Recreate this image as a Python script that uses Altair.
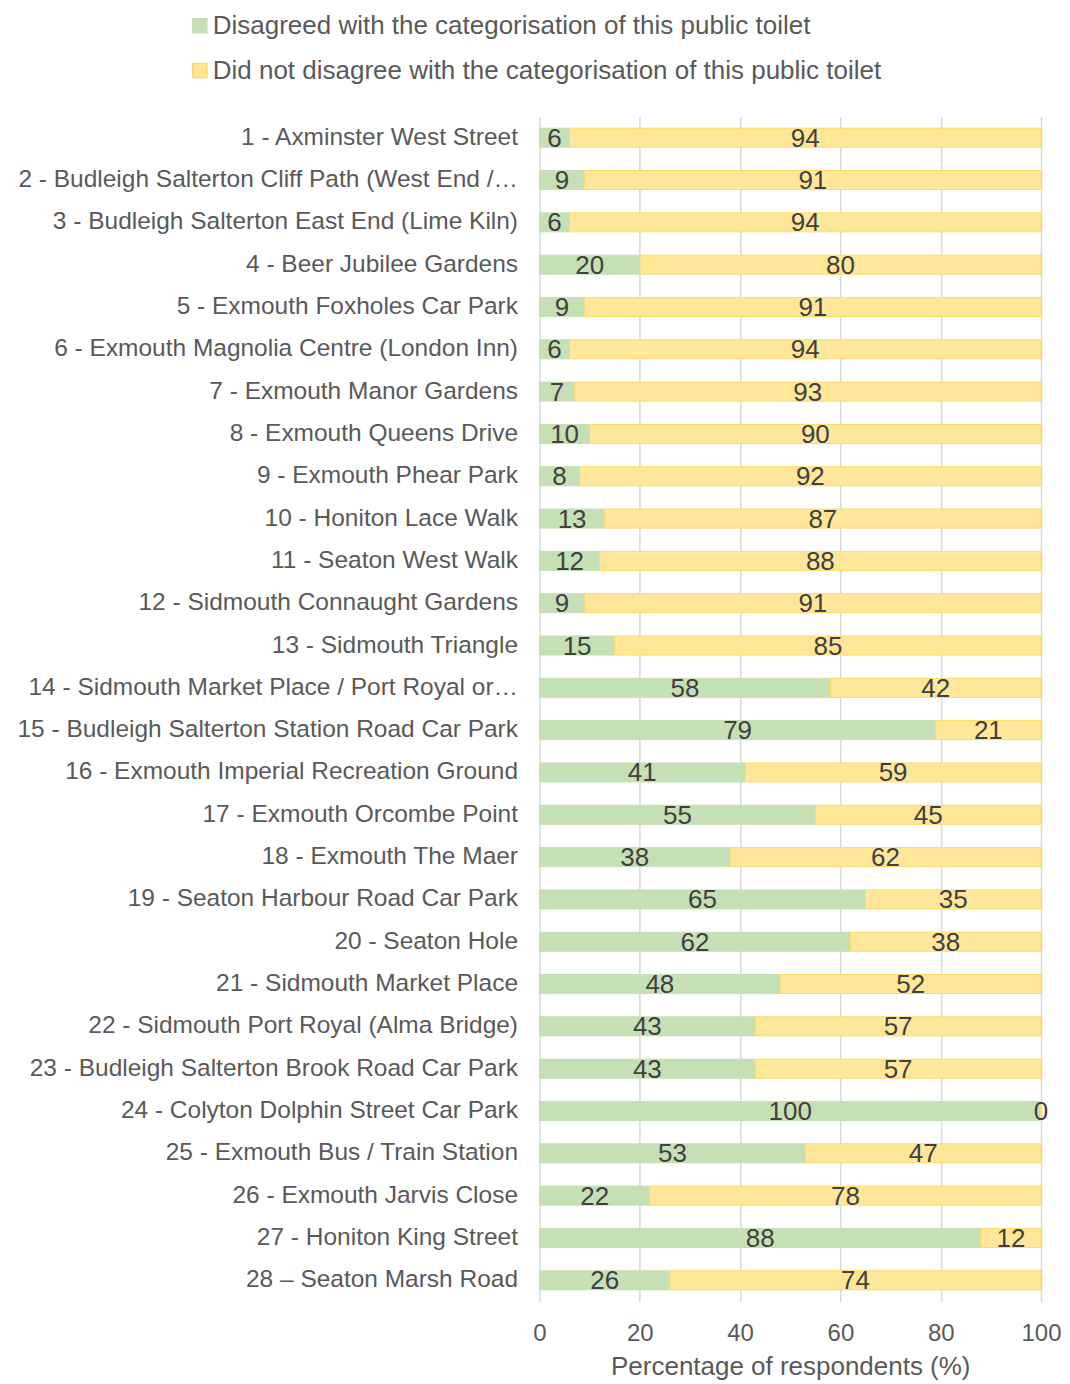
import altair as alt
import pandas as pd

toilets = [
    "1 - Axminster West Street",
    "2 - Budleigh Salterton Cliff Path (West End /…",
    "3 - Budleigh Salterton East End (Lime Kiln)",
    "4 - Beer Jubilee Gardens",
    "5 - Exmouth Foxholes Car Park",
    "6 - Exmouth Magnolia Centre (London Inn)",
    "7 - Exmouth Manor Gardens",
    "8 - Exmouth Queens Drive",
    "9 - Exmouth Phear Park",
    "10 - Honiton Lace Walk",
    "11 - Seaton West Walk",
    "12 - Sidmouth Connaught Gardens",
    "13 - Sidmouth Triangle",
    "14 - Sidmouth Market Place / Port Royal or…",
    "15 - Budleigh Salterton Station Road Car Park",
    "16 - Exmouth Imperial Recreation Ground",
    "17 - Exmouth Orcombe Point",
    "18 - Exmouth The Maer",
    "19 - Seaton Harbour Road Car Park",
    "20 - Seaton Hole",
    "21 - Sidmouth Market Place",
    "22 - Sidmouth Port Royal (Alma Bridge)",
    "23 - Budleigh Salterton Brook Road Car Park",
    "24 - Colyton Dolphin Street Car Park",
    "25 - Exmouth Bus / Train Station",
    "26 - Exmouth Jarvis Close",
    "27 - Honiton King Street",
    "28 \u2013 Seaton Marsh Road",
]

disagreed = [6, 9, 6, 20, 9, 6, 7, 10, 8, 13, 12, 9, 15, 58, 79, 41, 55, 38, 65, 62, 48, 43, 43, 100, 53, 22, 88, 26]
not_disagreed = [94, 91, 94, 80, 91, 94, 93, 90, 92, 87, 88, 91, 85, 42, 21, 59, 45, 62, 35, 38, 52, 57, 57, 0, 47, 78, 12, 74]

series = [
    "Disagreed with the categorisation of this public toilet",
    "Did not disagree with the categorisation of this public toilet",
]

rows = []
for t, a, b in zip(toilets, disagreed, not_disagreed):
    rows.append({"toilet": t, "series": series[0], "value": a, "ord": 0})
    rows.append({"toilet": t, "series": series[1], "value": b, "ord": 1})
df = pd.DataFrame(rows)

FONT = "Liberation Sans"

base = alt.Chart(df).transform_stack(
    stack="value", groupby=["toilet"], as_=["v0", "v1"],
    sort=[alt.SortField("ord", order="ascending")]
).transform_calculate(mid="(datum.v0 + datum.v1) / 2")

yenc = alt.Y("toilet:N", sort=toilets, title=None,
             scale=alt.Scale(paddingInner=0.55, paddingOuter=0.275),
             axis=alt.Axis(labelFont=FONT, labelFontSize=24.5, labelColor="#595959",
                           labelPadding=22, labelLimit=700, ticks=False,
                           domain=False, grid=False))

bars = base.mark_bar(strokeWidth=1).encode(
    x=alt.X("v0:Q", scale=alt.Scale(domain=[0, 100], nice=False),
            title="Percentage of respondents (%)",
            axis=alt.Axis(values=[0, 20, 40, 60, 80, 100], grid=True, labelFlush=False,
                          gridColor="#d9d9d9", gridWidth=1.5, domain=False, ticks=False,
                          labelFont=FONT, labelFontSize=24, labelColor="#595959",
                          labelPadding=20, titleFont=FONT, titleFontSize=26,
                          titleFontWeight="normal", titleColor="#595959", titlePadding=8)),
    x2="v1:Q",
    y=yenc,
    color=alt.Color("series:N", sort=series,
                    scale=alt.Scale(domain=series, range=["#c5e0b4", "#ffe699"]),
                    legend=alt.Legend(title=None, orient="none", legendX=-353, legendY=-104,
                                      symbolType="square", symbolSize=196,
                                      labelFont=FONT, labelFontSize=26, labelColor="#595959",
                                      rowPadding=19, labelOffset=0, labelLimit=900)),
    stroke=alt.Stroke("series:N", sort=series,
                      scale=alt.Scale(domain=series, range=["#c5e0b4", "#ffd966"]),
                      legend=None),
)

labels = base.mark_text(font=FONT, fontSize=26, color="#404040", baseline="middle", dy=1).encode(
    x=alt.X("mid:Q"),
    y=alt.Y("toilet:N", sort=toilets),
    text=alt.Text("value:Q"),
)

chart = (bars + labels).properties(
    width=502, height=1186, padding={"left": 8, "top": 4, "right": 0, "bottom": 0}
).configure_view(stroke=None)

chart.save("out.html", embed_options={"renderer": "svg", "actions": False})
